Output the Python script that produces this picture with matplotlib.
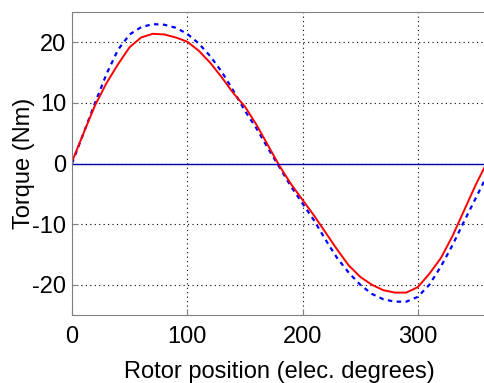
import numpy as np
import matplotlib.pyplot as plt

plt.rcParams['font.family'] = ['Liberation Sans', 'DejaVu Sans']
plt.rcParams['axes.unicode_minus'] = False

# rotor position (electrical degrees)
angle = np.arange(0, 361, 10)

# measured torque (red) and simulated torque (blue dashed), Nm
torque_measured = [0.3, 5.0, 9.6, 13.3, 16.4, 19.2, 20.8, 21.4, 21.3, 20.8,
                   20.1, 18.6, 16.6, 14.2, 11.6, 9.4, 6.4, 3.0, -0.4, -3.4,
                   -6.0, -8.6, -11.4, -14.2, -16.8, -18.7, -20.0, -20.9, -21.3, -21.3,
                   -20.4, -18.2, -15.6, -12.0, -7.8, -3.6, 0.2]
torque_simulated = [0.0, 5.0, 10.0, 14.8, 18.8, 21.3, 22.5, 23.0, 22.9, 22.4,
                    21.4, 19.8, 17.7, 15.1, 12.0, 8.7, 5.8, 2.5, -0.6, -3.8,
                    -6.6, -9.4, -12.6, -15.6, -18.0, -20.0, -21.5, -22.4, -22.8, -22.8,
                    -22.0, -20.0, -17.0, -13.5, -9.6, -5.8, -2.0]

fig = plt.figure(figsize=(4.84, 3.83), dpi=100)
ax = fig.add_axes([72 / 484, 68 / 383, 415 / 484, 303 / 383])

ax.plot(angle, torque_simulated, color='blue', linestyle=(0, (2, 2)), linewidth=1.6)
ax.plot(angle, torque_measured, color='red', linewidth=1.4)
ax.axhline(0, color='#0000b0', linewidth=1)

ax.set_xlim(0, 360)
ax.set_ylim(-25, 25)
ax.set_xticks([0, 100, 200, 300])
ax.set_yticks([-20, -10, 0, 10, 20])
ax.grid(True, color='black', linestyle=(0, (1, 3)), linewidth=0.8)

for s in ax.spines.values():
    s.set_color('#808080')
ax.tick_params(direction='in', labelsize=17, length=4, color='#808080')
ax.tick_params(axis='x', pad=8)
ax.tick_params(axis='y', pad=4)

ax.set_xlabel('Rotor position (elec. degrees)', fontsize=17, labelpad=9)
ax.set_ylabel('Torque (Nm)', fontsize=17, labelpad=-2)

fig.savefig('out.png', dpi=100)
